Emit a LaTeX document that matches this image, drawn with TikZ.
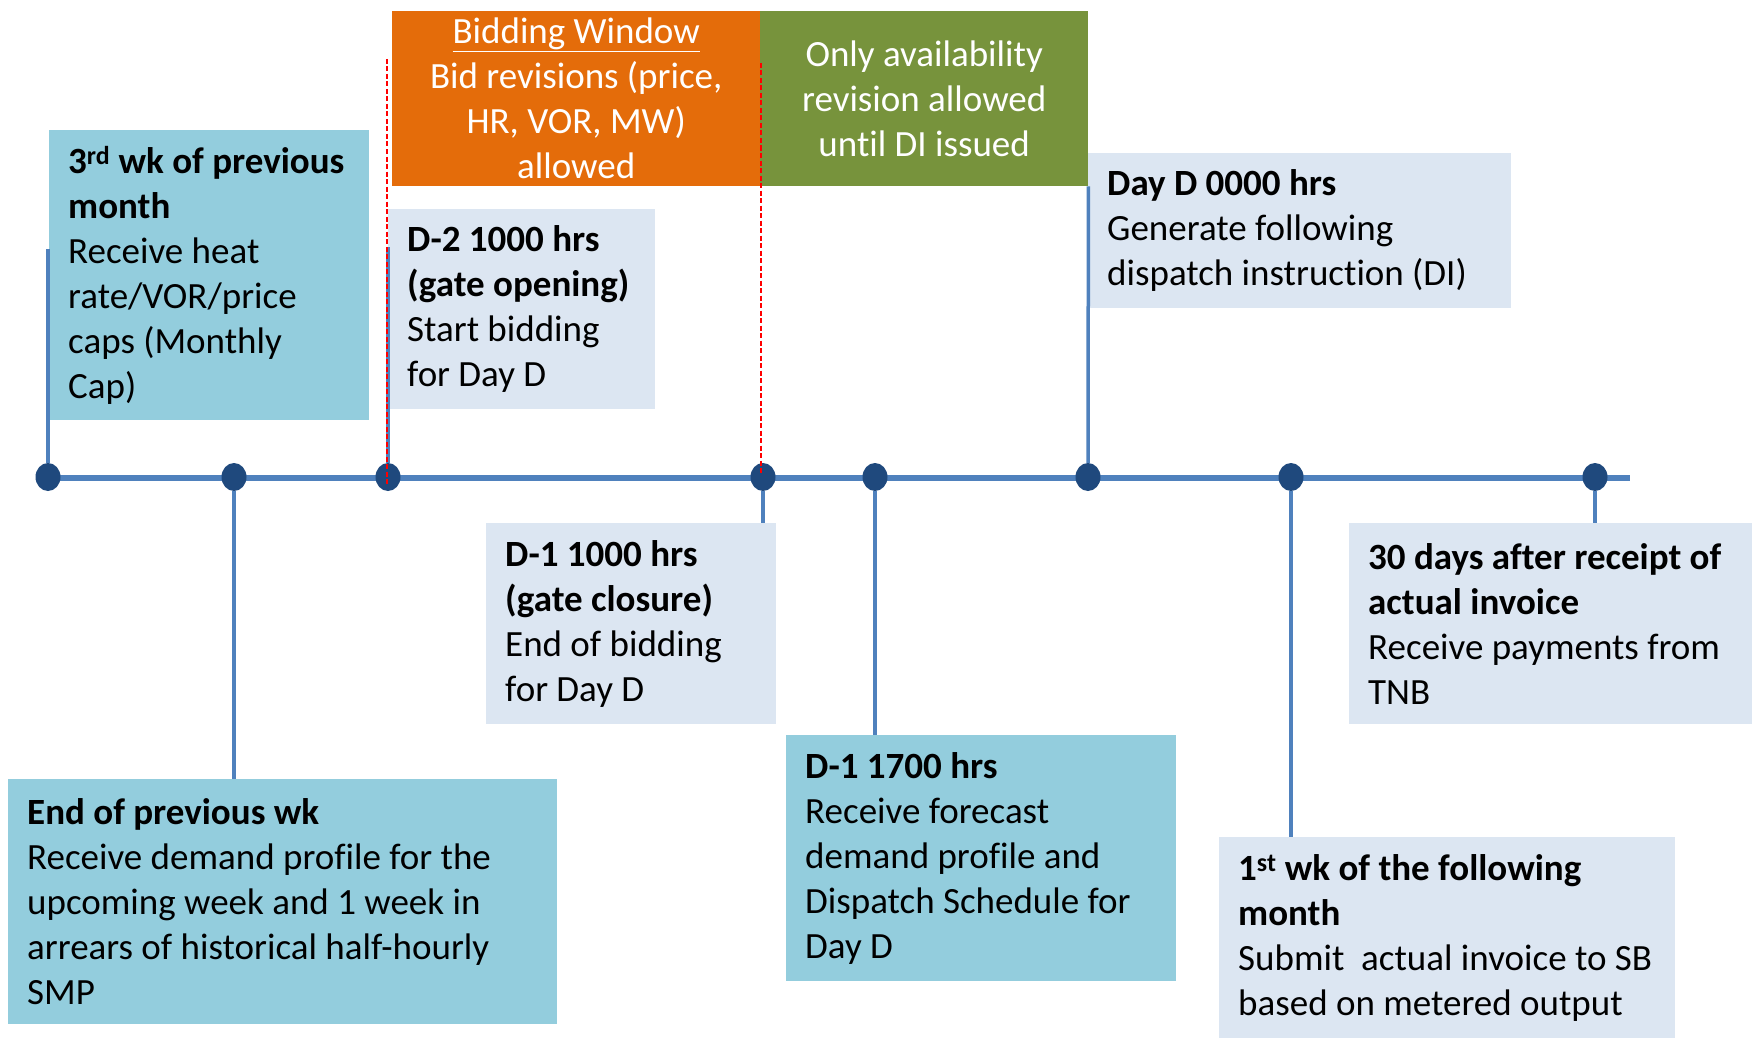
\documentclass[tikz,border=0pt]{standalone}
\usepackage{fontspec}
\setmainfont{Carlito}[Ligatures=NoCommon]
\usetikzlibrary{positioning, shapes.geometric}

\definecolor{lineblue}{HTML}{4F81BD}
\definecolor{dotblue}{HTML}{1F497D}
\definecolor{aquabox}{HTML}{93CDDD}
\definecolor{palebox}{HTML}{DCE6F2}
\definecolor{bidorange}{HTML}{E46C0A}
\definecolor{revgreen}{HTML}{77933C}

\begin{document}
\begin{tikzpicture}[x=1pt, y=-1pt,
  dot/.style={ellipse, fill=dotblue, inner sep=0pt, minimum width=25pt, minimum height=28pt},
  infobox/.style={anchor=north west, inner xsep=19pt, inner ysep=0pt, align=flush left,
    font=\fontsize{37}{45}\selectfont},
  windowbox/.style={anchor=north west, inner sep=0pt, align=flush center, text=white,
    font=\fontsize{37}{45}\selectfont},
  stem/.style={lineblue, line width=3.5pt},
  gate/.style={red, line width=1.8pt, dash pattern=on 5pt off 2.5pt}]
\useasboundingbox (0,0) rectangle (1758,1038);

% bidding window bars
\node (bw) [windowbox, fill=bidorange, minimum width=368pt, minimum height=175pt] at (392,11)
  {\underline{Bidding Window}\\Bid revisions (price,\\HR, VOR, MW)\\allowed};
\node (ar) [windowbox, fill=revgreen, minimum width=328pt, minimum height=175pt] at (760,11)
  {Only availability\\revision allowed\\until DI issued};

% event boxes
\node (wk3) [infobox, fill=aquabox, text width=282pt, minimum height=290pt] at (49,130)
  {\textbf{3\textsuperscript{rd} wk of previous}\\\textbf{month}\\Receive heat\\rate/VOR/price\\caps (Monthly\\Cap)};
\node (open) [infobox, fill=palebox, text width=229pt, minimum height=200pt] at (388,209)
  {\textbf{D-2 1000 hrs}\\\textbf{(gate opening)}\\Start bidding\\for Day D};
\node (dayd) [infobox, fill=palebox, text width=385pt, minimum height=155pt] at (1088,153)
  {\textbf{Day D 0000 hrs}\\Generate following\\dispatch instruction (DI)};
\node (prevwk) [infobox, fill=aquabox, text width=511pt, minimum height=245pt] at (8,779)
  {\textbf{End of previous wk}\\Receive demand profile for the\\upcoming week and 1 week in\\arrears of historical half-hourly\\SMP};
\node (close) [infobox, fill=palebox, text width=252pt, minimum height=201pt] at (486,523)
  {\textbf{D-1 1000 hrs}\\\textbf{(gate closure)}\\End of bidding\\for Day D};
\node (fcst) [infobox, fill=aquabox, text width=352pt, minimum height=246pt] at (786,735)
  {\textbf{D-1 1700 hrs}\\Receive forecast\\demand profile and\\Dispatch Schedule for\\Day D};
\node (inv) [infobox, fill=palebox, text width=418pt, minimum height=201pt] at (1219,837)
  {\textbf{1\textsuperscript{st} wk of the following}\\\textbf{month}\\Submit\ \ actual invoice to SB\\based on metered output};
\node (pay) [infobox, fill=palebox, text width=365pt, minimum height=201pt] at (1349,523)
  {\textbf{30 days after receipt of}\\\textbf{actual invoice}\\Receive payments from\\TNB};

% timeline
\coordinate (start) at (48,478);
\coordinate (end) at (1630,478);
\draw [lineblue, line width=6.5pt] (start) -- (end);

\node (t1) [dot] at (48,477) {};
\node (t2) [dot] at (234,477) {};
\node (t3) [dot] at (388,477) {};
\node (t4) [dot] at (763,477) {};
\node (t5) [dot] at (875,477) {};
\node (t6) [dot] at (1088,477) {};
\node (t7) [dot] at (1291,477) {};
\node (t8) [dot] at (1595,477) {};

% stems
\coordinate (wk3top) at (48,249);
\coordinate (opentop) at (388,247);
\draw [stem] (t1) -- (wk3top);
\draw [stem] (t3) -- (opentop);
\draw [stem] (t6) -- (ar.south east);
\draw [stem] (t2) -- (t2 |- prevwk.north);
\draw [stem] (t4) -- (t4 |- close.north);
\draw [stem] (t5) -- (t5 |- fcst.north);
\draw [stem] (t7) -- (t7 |- inv.north);
\draw [stem] (t8) -- (t8 |- pay.north);

% gate lines
\coordinate (g1top) at (387,59);
\coordinate (g1bot) at (387,486);
\coordinate (g2top) at (761,63);
\coordinate (g2bot) at (761,474);
\draw [gate] (g1top) -- (g1bot);
\draw [gate] (g2top) -- (g2bot);

\end{tikzpicture}
\end{document}
